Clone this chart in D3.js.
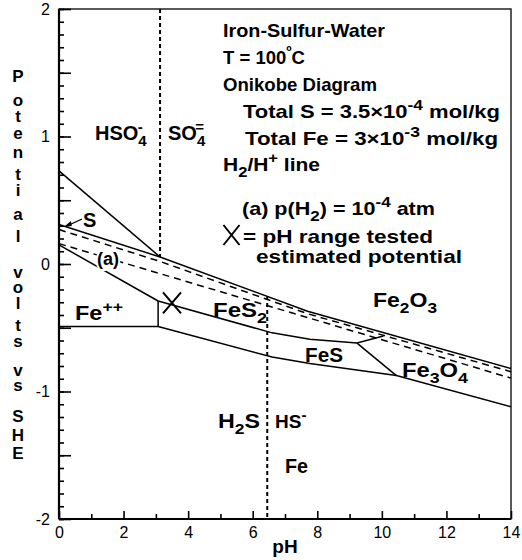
<!DOCTYPE html>
<html>
<head>
<meta charset="utf-8">
<script src="https://cdnjs.cloudflare.com/ajax/libs/d3/7.8.5/d3.min.js"></script>
<style>
body { margin: 0; background: #fff; }
svg { display: block; font-family: "Liberation Sans", Arial, sans-serif; }
.lbl { font-weight: bold; font-size: 19px; white-space: pre; }
.tick text { font-size: 16px; font-weight: normal; }
</style>
</head>
<body>
<svg id="chart" width="522" height="560"></svg>
<script>
// stability field boundaries, [pH, E volts vs SHE]
const hso4SulfurLine = [[0, 0.73], [3.13, 0.055]];
const oxideLine = [[0, 0.31], [3.13, 0.055], [7.7, -0.37], [14, -0.82]];
const ferrousTop = [[0, 0.15], [3.07, -0.29]];
const ferrousSide = [[3.07, -0.29], [3.07, -0.49]];
const ferrousBase = [[0, -0.49], [3.07, -0.49]];
const pyriteLower = [[3.07, -0.29], [6.6, -0.54], [7.77, -0.59], [9.23, -0.62], [10.05, -0.565]];
const fesMagnetite = [[9.23, -0.62], [10.45, -0.875]];
const ironTop = [[3.07, -0.49], [6.6, -0.73], [7.77, -0.78], [10.45, -0.875], [14, -1.12]];

// H2/H+ lines, dashed
const h2Line = [[0, 0.27], [3.13, 0.02], [7.7, -0.39], [14, -0.845]];
const h2LineA = [[0, 0.16], [14, -0.895]];

// sulfur species boundaries (dotted verticals): pH, E top, E bottom
const hso4So4 = [3.13, 2, 0.055];
const h2sHs = [6.45, -0.25, -2];

// pH range tested / estimated potential
const tested = [[3.5, -0.305]];

const xTicks = d3.range(0, 15);
const yMinorTicks = d3.range(-20, 21).map(v => v / 10);
const yMajorTicks = d3.range(-4, 5).map(v => v / 2);

const svg = d3.select('#chart');
const x = d3.scaleLinear().domain([0, 14]).range([59, 511]);
const y = d3.scaleLinear().domain([-2, 2]).range([519, 9]);

const line = d3.line().x(d => x(d[0])).y(d => y(d[1]));

// frame
svg.append('rect')
    .attr('x', x(0)).attr('y', y(2))
    .attr('width', x(14) - x(0)).attr('height', y(-2) - y(2))
    .attr('fill', 'none').attr('stroke', '#000').attr('stroke-width', 1.3);

// axes, ticks point inwards
const yAxisMinor = svg.append('g').attr('transform', `translate(${x(0)},0)`)
    .call(d3.axisLeft(y).tickValues(yMinorTicks).tickSize(-5).tickFormat(''));
const yAxisMajor = svg.append('g').attr('transform', `translate(${x(0)},0)`)
    .call(d3.axisLeft(y).tickValues(yMajorTicks).tickSize(-12).tickPadding(9)
        .tickFormat(d => Number.isInteger(d) ? d : ''));
const xAxisMinor = svg.append('g').attr('transform', `translate(0,${y(-2)})`)
    .call(d3.axisBottom(x).tickValues(xTicks.filter(d => d % 2)).tickSize(-5).tickFormat(''));
const xAxisMajor = svg.append('g').attr('transform', `translate(0,${y(-2)})`)
    .call(d3.axisBottom(x).tickValues(xTicks.filter(d => d % 2 === 0)).tickSize(-8).tickPadding(8));

[yAxisMinor, yAxisMajor, xAxisMinor, xAxisMajor].forEach(g => {
    g.select('.domain').remove();
    g.selectAll('.tick line').attr('stroke-width', 1.6);
});
svg.append('line').attr('x1', x(0)).attr('x2', x(0)).attr('y1', y(2)).attr('y2', y(-2))
    .attr('stroke', '#000').attr('stroke-width', 2.2);
svg.append('line').attr('x1', x(0)).attr('x2', x(14)).attr('y1', y(-2)).attr('y2', y(-2))
    .attr('stroke', '#000').attr('stroke-width', 2.2);

// boundaries
const solid = [hso4SulfurLine, oxideLine, ferrousTop, ferrousSide, ferrousBase,
    pyriteLower, fesMagnetite, ironTop];
svg.append('g').selectAll('path').data(solid).enter().append('path')
    .attr('d', line).attr('fill', 'none').attr('stroke', '#000').attr('stroke-width', 1.5);

svg.append('g').selectAll('path').data([h2Line, h2LineA]).enter().append('path')
    .attr('d', line).attr('fill', 'none').attr('stroke', '#000')
    .attr('stroke-width', 1.5).attr('stroke-dasharray', '7,5');

svg.append('g').selectAll('line').data([hso4So4, h2sHs]).enter().append('line')
    .attr('x1', d => x(d[0])).attr('x2', d => x(d[0]))
    .attr('y1', d => y(d[1])).attr('y2', d => y(d[2]))
    .attr('stroke', '#000').attr('stroke-width', 2).attr('stroke-dasharray', '4,3');

// X markers
function cross(g, cx, cy, w, h) {
    g.append('path')
        .attr('d', `M${cx - w},${cy - h}L${cx + w},${cy + h}M${cx + w},${cy - h}L${cx - w},${cy + h}`)
        .attr('stroke', '#000').attr('stroke-width', 2).attr('fill', 'none');
}
tested.forEach(d => cross(svg, x(d[0]), y(d[1]), 9, 10.5));

// text with sub/superscripts; parts are strings or [string, 'sub'|'sup', dx]
function rich(px, py, parts, width, size) {
    const t = svg.append('text').attr('class', 'lbl').attr('x', px).attr('y', py);
    if (size) t.style('font-size', size + 'px');
    let cur = 0;
    parts.forEach(p => {
        const [str, kind, dx] = typeof p === 'string' ? [p, null, 0] : p;
        const shift = kind === 'sub' ? 6 : kind === 'sup' ? -8 : 0;
        const ts = t.append('tspan').attr('dy', shift - cur).text(str);
        if (dx) ts.attr('dx', dx);
        if (kind) ts.style('font-size', '15px');
        cur = shift;
    });
    if (width) t.attr('textLength', width).attr('lengthAdjust', 'spacingAndGlyphs');
    return t;
}

// legend block
rich(223, 37, ['Iron-Sulfur-Water'], 162);
rich(223, 64, ['T = 100', ['º', 'sup'], ['C', null]], 82);
rich(223, 91, ['Onikobe Diagram'], 154);
rich(243, 118, ['Total S = 3.5×10', ['-4', 'sup'], [' mol/kg', null]], 257);
rich(245, 145, ['Total Fe = 3×10', ['-3', 'sup'], [' mol/kg', null]], 253);
rich(223, 171, ['H', ['2', 'sub'], ['/H', null], ['+', 'sup'], [' line', null]], 97);
rich(242, 215, ['(a) p(H', ['2', 'sub'], [') = 10', null], ['-4', 'sup'], [' atm', null]], 193);
cross(svg, 231.5, 235, 8, 10);
rich(243, 243, ['= pH range tested'], 190);
rich(256, 263, ['estimated potential'], 206);

// field labels
rich(95, 140, ['HSO', ['4', 'sub'], ['-', 'sup', -9]], null, 20);
rich(168, 140, ['SO', ['4', 'sub'], ['=', 'sup', -10]], null, 20);
rich(83, 227, ['S'], null, 20);
rich(97, 265, ['(a)'], null, 18)
    .attr('stroke', '#fff').attr('stroke-width', 4).attr('paint-order', 'stroke');
rich(75, 320, ['Fe', ['++', 'sup']], 48, 20);
rich(213, 317, ['FeS', ['2', 'sub']], 54, 20);
rich(373, 307, ['Fe', ['2', 'sub'], ['O', null], ['3', 'sub']], 64, 20);
rich(305, 362, ['FeS'], 38, 20);
rich(402, 377, ['Fe', ['3', 'sub'], ['O', null], ['4', 'sub']], 66, 20);
rich(218, 428, ['H', ['2', 'sub'], ['S', null]], 42, 20);
rich(275, 428, ['HS', ['-', 'sup']], null, 19);
rich(285, 473, ['Fe'], 23, 20);

// arrow from S label to the sulfur field
const tip = [x(0.15), y(0.29)];
svg.append('line').attr('x1', 82).attr('y1', 219).attr('x2', tip[0] + 3).attr('y2', tip[1] - 1)
    .attr('stroke', '#000').attr('stroke-width', 1.3);
svg.append('path')
    .attr('d', `M${tip[0]},${tip[1]}l7,-6l1,5z`).attr('fill', '#000');

// axis titles
svg.append('text').attr('class', 'lbl').attr('x', x(7)).attr('y', 553)
    .attr('text-anchor', 'middle').text('pH');

const titleChars = 'Potential volts vs SHE'.split('');
const titleY = [76, 100, 116, 133, 152, 174, 190, 214, 236, null,
    272, 287, 303, 325, 341, null, 370, 385, null, 416, 435, 453];
svg.append('g').selectAll('text')
    .data(titleChars.map((c, i) => [c, titleY[i]]).filter(d => d[0] !== ' '))
    .enter().append('text').attr('class', 'lbl')
    .attr('x', 18).attr('y', d => d[1] + 6).attr('text-anchor', 'middle')
    .style('font-size', '17px').text(d => d[0]);
</script>
</body>
</html>
